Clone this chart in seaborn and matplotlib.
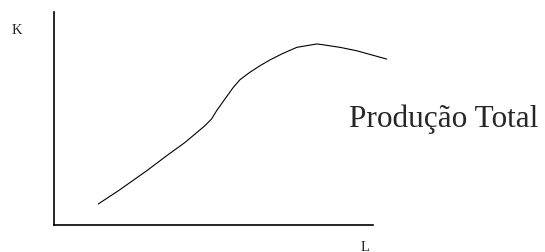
import numpy as np
import pandas as pd
import matplotlib.pyplot as plt
import seaborn as sns

# curve (L on x, K on y, axis spans 0..100)
L_vals = [13.9, 20.2, 29.1, 35.3, 41.1, 44.2, 47.3, 49.4, 51.0, 53.6, 56.2,
          58.3, 61.4, 64.6, 67.7, 71.4, 76.1, 82.4, 84.4, 89.7, 94.9, 104.3]
K_vals = [9.9, 16.1, 25.5, 32.5, 38.8, 42.7, 46.6, 49.8, 53.7, 59.2, 64.6,
          68.2, 71.7, 74.8, 77.5, 80.3, 83.4, 85.0, 84.6, 83.4, 81.8, 77.9]
curve_label = 'Produção Total'
x_label = 'L'
y_label = 'K'

df = pd.DataFrame({'L': L_vals, 'K': K_vals})

sns.set_style('white')
plt.rcParams['font.family'] = ['Liberation Serif', 'DejaVu Serif']

fig = plt.figure(figsize=(5.45, 2.53), dpi=100)
ax = fig.add_axes([54 / 545, 27 / 253, (373 - 54) / 545, (226 - 13) / 253])

sns.lineplot(data=df, x='L', y='K', ax=ax, color='black', linewidth=0.8,
             sort=False, clip_on=False)

ax.set_xlim(0, 100)
ax.set_ylim(0, 100)
ax.set_xticks([])
ax.set_yticks([])
ax.set_xlabel('')
ax.set_ylabel('')
sns.despine(ax=ax)
for s in ['left', 'bottom']:
    ax.spines[s].set_color('black')
    ax.spines[s].set_linewidth(1.2)

fig.text(12 / 545, 1 - 34 / 253, y_label, fontsize=10.5, ha='left', va='baseline')
fig.text(361 / 545, 1 - 251 / 253, x_label, fontsize=10.5, ha='left', va='baseline')
fig.text(349 / 545, 1 - 127 / 253, curve_label, fontsize=22.5, ha='left', va='baseline')

fig.savefig('out.png', dpi=100)
